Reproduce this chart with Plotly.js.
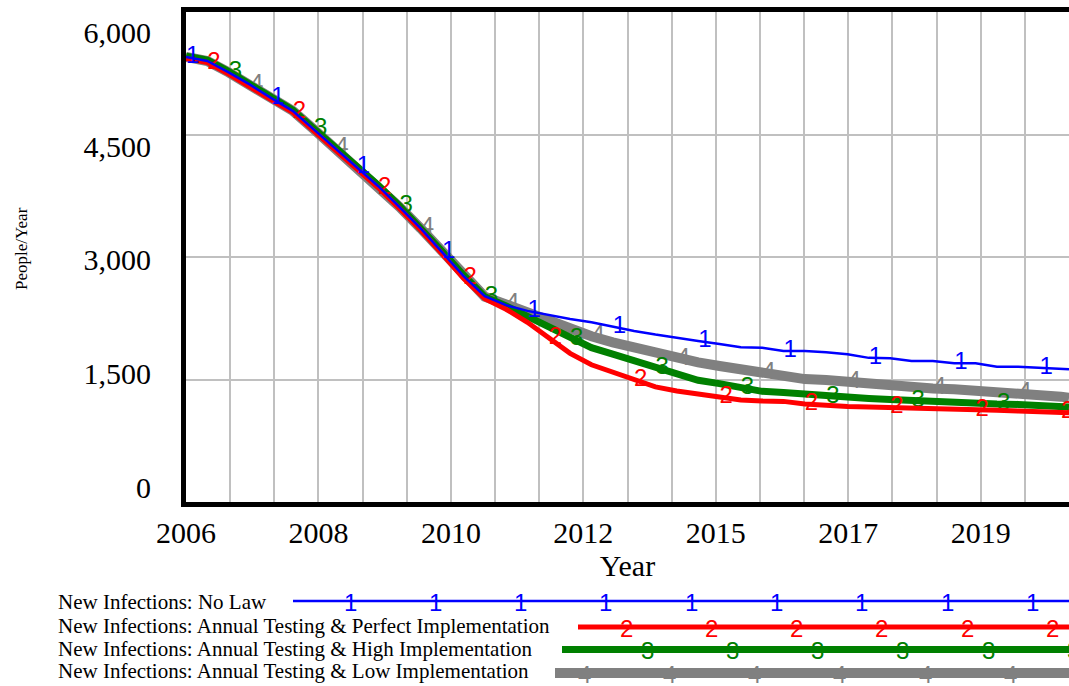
<!DOCTYPE html>
<html><head><meta charset="utf-8">
<script src="https://cdn.plot.ly/plotly-3.0.1.min.js"></script>
<style>html,body{margin:0;padding:0;background:#fff}#chart{width:1069px;height:686px}</style>
</head><body><div id="chart"></div>
<script>
// ---- data ----
const years = [2006, 2006.3625, 2006.725, 2007.0875, 2007.45, 2007.8125, 2008.175, 2008.5375, 2008.9, 2009.2625,
  2009.625, 2009.9875, 2010.35, 2010.7125, 2011.075, 2011.4375, 2011.8, 2012.1625, 2012.525, 2012.8875,
  2013.25, 2013.6125, 2013.975, 2014.3375, 2014.7, 2015.0625, 2015.425, 2015.7875, 2016.15, 2016.5125,
  2016.875, 2017.2375, 2017.6, 2017.9625, 2018.325, 2018.6875, 2019.05, 2019.4125, 2019.775, 2020.1375,
  2020.5, 2020.8625, 2021];

const noLaw = [5450, 5400, 5260, 5110, 4945, 4790, 4560, 4330, 4105, 3870,
  3615, 3350, 3060, 2770, 2520, 2410, 2340, 2290, 2240, 2200,
  2145, 2095, 2050, 2015, 1972, 1935, 1895, 1888, 1849, 1849,
  1835, 1808, 1765, 1760, 1727, 1727, 1698, 1698, 1657, 1657,
  1640, 1624, 1624];

const perfectImpl = [5430, 5380, 5240, 5090, 4925, 4770, 4540, 4310, 4085, 3850,
  3595, 3330, 3040, 2740, 2490, 2360, 2200, 2005, 1820, 1680,
  1590, 1490, 1410, 1360, 1320, 1285, 1250, 1237, 1232, 1200,
  1178, 1170, 1162, 1158, 1150, 1140, 1135, 1130, 1125, 1114,
  1110, 1098, 1094];

const highImpl = [5460, 5410, 5270, 5120, 4955, 4800, 4570, 4340, 4115, 3880,
  3625, 3360, 3070, 2780, 2515, 2400, 2270, 2140, 2000, 1890,
  1810, 1730, 1640, 1560, 1490, 1450, 1400, 1355, 1340, 1320,
  1290, 1275, 1268, 1255, 1240, 1225, 1215, 1208, 1200, 1195,
  1180, 1165, 1162];

const lowImpl = [5450, 5400, 5260, 5110, 4945, 4790, 4560, 4330, 4105, 3870,
  3615, 3350, 3060, 2770, 2515, 2420, 2320, 2220, 2120, 2030,
  1955, 1890, 1820, 1755, 1710, 1665, 1625, 1580, 1520, 1505,
  1495, 1470, 1440, 1415, 1400, 1390, 1380, 1365, 1355, 1340,
  1330, 1290, 1275];

const seriesNames = [
  'New Infections: No Law',
  'New Infections: Annual Testing & Perfect Implementation',
  'New Infections: Annual Testing & High Implementation',
  'New Infections: Annual Testing & Low Implementation'
];
const seriesMarks = ['1', '2', '3', '4'];

const xGridVals = [2006, 2006.75, 2007.5, 2008.25, 2009, 2009.75, 2010.5, 2011.25, 2012, 2012.75,
  2013.5, 2014.25, 2015, 2015.75, 2016.5, 2017.25, 2018, 2018.75, 2019.5, 2020.25];
const xTickText = ['2006', '', '', '2008', '', '', '2010', '', '', '2012',
  '', '', '2015', '', '', '2017', '', '', '2019', ''];
const yTickVals = [0, 1500, 3000, 4500, 6000];
const yTickText = ['0', '1,500', '3,000', '4,500', '6,000'];

// ---- styles ----
const colors = ['#0000ff', '#ff0000', '#008000', '#808080'];
const widths = [2.5, 5, 7, 10];
const serif = 'Liberation Serif, Times New Roman, serif';
const sans = 'Liberation Sans, Arial, sans-serif';

const PL = 186, PR = 1069, PT = 12, PB = 502;
const px2x = p => (p - PL) / (PR - PL);
const py2y = p => (PB - p) / (PB - PT);

const allSeries = [noLaw, perfectImpl, highImpl, lowImpl];

function markText(s) {
  return years.map((_, i) => (i % 4 === s && i < years.length - 1) ? seriesMarks[s] : '');
}

const traces = [];
[3, 2, 1, 0].forEach(s => {
  traces.push({
    x: years, y: allSeries[s], name: seriesNames[s],
    type: 'scatter', mode: 'lines+text',
    text: markText(s), textposition: 'middle right',
    textfont: {family: sans, size: 24, color: colors[s]},
    line: {color: colors[s], width: widths[s]},
    hoverinfo: 'skip', showlegend: false
  });
});
// invisible trace to anchor the label axis
traces.push({x: [2006], y: [0], yaxis: 'y2', mode: 'markers', marker: {opacity: 0}, hoverinfo: 'skip', showlegend: false});

// ---- custom legend (text then sample line with numbered marks) ----
const legendY = [601, 627, 649.5, 673];
const legendTextY = [602, 626, 649, 671];
const legendLineStart = [293, 578, 562, 555];
const legendMarkStart = [350, 626, 647, 584];
const legendMarkStep = 85.3;

const shapes = [];
const annotations = [];
for (let s = 0; s < 4; s++) {
  shapes.push({type: 'line', xref: 'paper', yref: 'paper',
    x0: px2x(legendLineStart[s]), x1: px2x(PR + 10), y0: py2y(legendY[s]), y1: py2y(legendY[s]),
    line: {color: colors[s], width: widths[s]}});
  annotations.push({xref: 'paper', yref: 'paper', x: px2x(56), y: py2y(legendTextY[s]),
    xanchor: 'left', yanchor: 'middle', showarrow: false, text: seriesNames[s],
    font: {family: serif, size: 21, color: '#000'}});
  for (let mx = legendMarkStart[s]; mx < PR + 8; mx += legendMarkStep) {
    annotations.push({xref: 'paper', yref: 'paper', x: px2x(mx), y: py2y(legendY[s] + 1),
      xanchor: 'center', yanchor: 'middle', showarrow: false, text: seriesMarks[s],
      font: {family: sans, size: 24, color: colors[s]}});
  }
}
annotations.push({xref: 'paper', yref: 'paper', x: px2x(21), y: py2y(249), textangle: -90,
  xanchor: 'center', yanchor: 'middle', showarrow: false, text: 'People/Year',
  font: {family: serif, size: 17, color: '#000'}});

const layout = {
  width: 1069, height: 686,
  margin: {l: PL, r: 0, t: PT, b: 686 - PB, pad: 0},
  paper_bgcolor: '#ffffff', plot_bgcolor: '#ffffff',
  showlegend: false,
  font: {family: serif, color: '#000'},
  xaxis: {
    range: [2006, 2021], tickmode: 'array', tickvals: xGridVals, ticktext: xTickText,
    showgrid: true, gridcolor: '#c0c0c0', gridwidth: 2,
    showline: true, linecolor: '#000', linewidth: 5, mirror: true,
    ticks: '', zeroline: false,
    tickfont: {family: serif, size: 30, color: '#000'},
    title: {text: 'Year', font: {family: serif, size: 30, color: '#000'}, standoff: 4}
  },
  yaxis: {
    range: [0, 6000], tickmode: 'array', tickvals: yTickVals, showticklabels: false,
    showgrid: true, gridcolor: '#c0c0c0', gridwidth: 2,
    showline: true, linecolor: '#000', linewidth: 5, ticks: '', zeroline: false
  },
  yaxis2: {
    overlaying: 'y', side: 'left', range: [-198, 6271],
    tickmode: 'array', tickvals: yTickVals, ticktext: yTickText,
    showgrid: false, zeroline: false, showline: false, ticks: '',
    tickfont: {family: serif, size: 30, color: '#000'}, ticklabelstandoff: 34
  },
  shapes: shapes,
  annotations: annotations
};

Plotly.newPlot('chart', traces, layout, {displayModeBar: false, staticPlot: true});
</script>
</body></html>
